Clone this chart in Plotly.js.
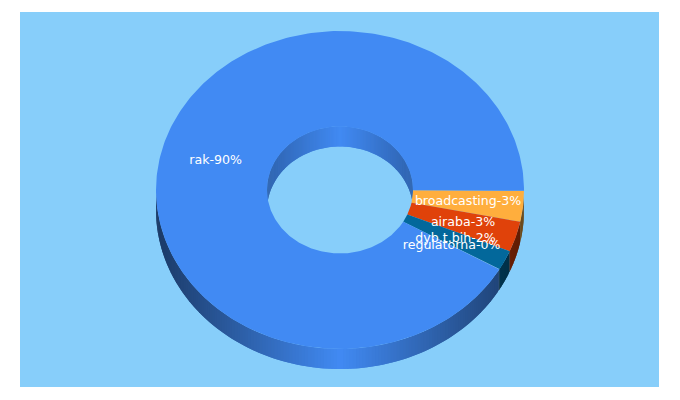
<!DOCTYPE html>
<html>
<head>
<meta charset="utf-8">
<script src="https://cdn.plot.ly/plotly-3.0.1.min.js"></script>
<style>html,body{margin:0;padding:0;background:#fff}</style>
</head>
<body>
<div id="chart" style="width:680px;height:400px"></div>
<script>
// Data, clockwise from the east point of the ring
const categories = ["broadcasting", "airaba", "dyb.t.bih", "regulatorna", "rak"];
const shares = [3.12, 3.1, 2.0, 0.03, 91.75];
const shownPercent = [3, 3, 2, 0, 90];
const colors = ["#FFAE3D", "#E0420A", "#03689B", "#BFD4E0", "#418AF3"];

// Ring shape (plot units are pixels, centre at 0,0)
const outerX = 184, outerY = 159, innerX = 73, innerY = 63.5, depth = 20, labelRatio = 0.70, startAngle = 0.3;
const bg = "#87CEFA";

const rad = d => d * Math.PI / 180;
const shade = (hex, f) => {
  const n = parseInt(hex.slice(1), 16);
  const c = [n >> 16 & 255, n >> 8 & 255, n & 255].map(v => Math.round(v * f));
  return "rgb(" + c.join(",") + ")";
};
const total = shares.reduce((a, b) => a + b, 0);
let acc = 0;
const slices = shares.map((v, i) => {
  const start = startAngle + acc / total * 360;
  acc += v;
  return {i, start, end: startAngle + acc / total * 360};
});

function arcAngles(a, b, step) {
  const out = [];
  for (let t = a; t < b; t += step) out.push(t);
  out.push(b);
  return out;
}
const traces = [];
// Each strip runs on under its neighbour, so no seam can show between strips.
function wall(rx, ry, a, b, base, lo) {
  if (b <= a) return;
  const thin = b - a < 0.5;
  const step = 1;
  const angles = arcAngles(a, b, step);
  for (let k = 0; k < angles.length - 1; k++) {
    const mid = rad((angles[k] + angles[k + 1]) / 2);
    const n = Math.abs(Math.cos(mid));
    const color = shade(base, 1 - (1 - lo) * n);
    const over = arcAngles(angles[k], Math.min(angles[k + 1] + step, b), 0.5);
    const back = over.slice().reverse();
    const x = over.map(t => rx * Math.cos(rad(t))).concat(back.map(t => rx * Math.cos(rad(t))));
    const y = over.map(t => ry * Math.sin(rad(t))).concat(back.map(t => ry * Math.sin(rad(t)) + depth));
    x.push(x[0]); y.push(y[0]);
    traces.push({type: "scatter", mode: "lines", x, y, fill: "toself", fillcolor: color,
      line: {color, width: thin ? 1 : 0}, hoverinfo: "skip", showlegend: false});
  }
}
// inner wall shows on the far half, outer wall on the near half
slices.forEach(s => wall(innerX, innerY, Math.max(s.start, 180), s.end, colors[s.i], 0.72));
slices.slice().reverse().forEach(s => wall(outerX, outerY, s.start, Math.min(s.end, 180), colors[s.i], 0.42));
// top faces
slices.forEach(s => {
  const angles = arcAngles(s.start, s.end, 1);
  const back = angles.slice().reverse();
  const x = angles.map(t => outerX * Math.cos(rad(t))).concat(back.map(t => innerX * Math.cos(rad(t))));
  const y = angles.map(t => outerY * Math.sin(rad(t))).concat(back.map(t => innerY * Math.sin(rad(t))));
  x.push(x[0]); y.push(y[0]);
  traces.push({type: "scatter", mode: "lines", x, y, fill: "toself", fillcolor: colors[s.i],
    line: {color: colors[s.i], width: 0}, hoverinfo: "skip", showlegend: false});
});
// labels, the big slice first so the small ones overlap as in the picture
[4, 0, 1, 2, 3].forEach(i => {
  const s = slices[i], mid = rad((s.start + s.end) / 2);
  traces.push({type: "scatter", mode: "text",
    x: [labelRatio * outerX * Math.cos(mid)], y: [labelRatio * outerY * Math.sin(mid)],
    text: [categories[i] + "-" + shownPercent[i] + "%"], textposition: "middle center",
    textfont: {family: "DejaVu Sans, Verdana, sans-serif", size: 12.6, color: "#fff"},
    hoverinfo: "skip", showlegend: false, cliponaxis: false});
});

Plotly.newPlot("chart", traces, {
  width: 680, height: 400,
  margin: {l: 20, r: 21, t: 12, b: 13, pad: 0},
  paper_bgcolor: "#fff", plot_bgcolor: bg, showlegend: false,
  xaxis: {range: [-320, 319], visible: false, fixedrange: true},
  yaxis: {range: [197, -178], visible: false, fixedrange: true}
}, {displayModeBar: false, staticPlot: true});
</script>
</body>
</html>
